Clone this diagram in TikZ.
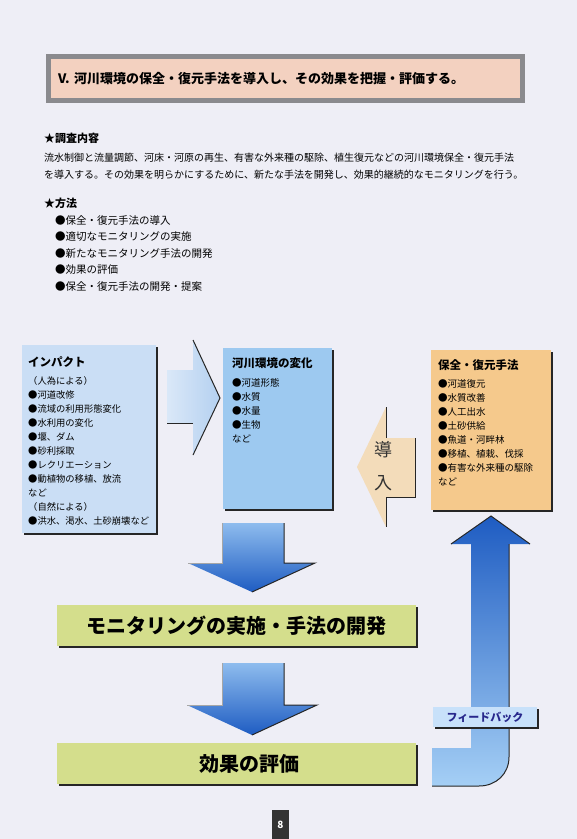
\documentclass[tikz,border=0pt]{standalone}
\usepackage{fontspec}
\setmainfont{Noto Sans CJK JP}
\usepackage{xcolor}
\usepackage{tikz}
\usetikzlibrary{positioning,shadows}

\definecolor{pagebg}{RGB}{238,238,246}
\definecolor{titlefill}{RGB}{243,209,192}
\definecolor{titleframe}{RGB}{138,138,142}
\definecolor{impactblue}{RGB}{202,222,245}
\definecolor{riverblue}{RGB}{157,201,240}
\definecolor{methodorange}{RGB}{245,201,140}
\definecolor{barleaf}{RGB}{212,222,140}
\definecolor{arrowlight}{RGB}{142,188,238}
\definecolor{arrowdark}{RGB}{30,92,194}
\definecolor{feedlight}{RGB}{165,207,245}
\definecolor{chevlight}{RGB}{218,232,248}
\definecolor{chevdark}{RGB}{180,208,240}
\definecolor{introfill}{RGB}{243,220,186}
\definecolor{feedfill}{RGB}{200,225,250}
\definecolor{feedtext}{RGB}{40,40,140}

\begin{document}
\begin{tikzpicture}[x=1pt, y=-1pt,
    titlebox/.style={draw=titleframe, line width=5pt, fill=titlefill, minimum width=474pt, minimum height=44pt, text width=455pt, align=left, font=\fontsize{13}{16}\selectfont\bfseries},
    headline/.style={anchor=base west, inner sep=0pt, font=\fontsize{11}{14}\selectfont\bfseries},
    plaintext/.style={anchor=north west, inner sep=0pt, align=left},
    listbox/.style={anchor=north west, fill=#1, inner ysep=9.5pt, drop shadow={shadow xshift=2pt, shadow yshift=-2pt, fill=black!85, opacity=1}},
    greenbar/.style={fill=barleaf, minimum width=359pt, minimum height=41pt, inner sep=0pt, drop shadow={shadow xshift=2pt, shadow yshift=-2pt, fill=black!85, opacity=1}, font=\fontsize{20}{24}\selectfont\bfseries},
    feedlabel/.style={fill=feedfill, minimum width=104pt, minimum height=20pt, inner sep=0pt, text=feedtext, drop shadow={shadow xshift=1.5pt, shadow yshift=-1.5pt, fill=black!85, opacity=1}, font=\fontsize{11}{13}\selectfont\bfseries},
    edgeline/.style={draw=black!85, line width=1pt},
    softline/.style={draw=black!35, line width=0.6pt}]
    \fill[pagebg] (0,0) rectangle (577,839);
    \useasboundingbox (0,0) rectangle (577,839);

    \node[titlebox] (title) at (285.5,78.5) {V. 河川環境の保全・復元手法を導入し、その効果を把握・評価する。};

    \node[headline] (surveyhead) at (44,142) {★調査内容};
    \node[plaintext, font=\fontsize{10}{17}\selectfont] (surveytext) at (44,153.2) {流水制御と流量調節、河床・河原の再生、有害な外来種の駆除、植生復元などの河川環境保全・復元手法\\を導入する。その効果を明らかにするために、新たな手法を開発し、効果的継続的なモニタリングを行う。};
    \node[headline] (methodhead) at (44,207) {★方法};
    \node[plaintext, font=\fontsize{10.5}{16.5}\selectfont] (methodlist) at (55,215) {●保全・復元手法の導入\\●適切なモニタリングの実施\\●新たなモニタリング手法の開発\\●効果の評価\\●保全・復元手法の開発・提案};

    \node[listbox=impactblue, inner xsep=6pt, inner ysep=11.5pt] (impact) at (22,345) {\parbox[t][165pt][t]{122pt}{\raggedright\fontsize{9.3}{14}\selectfont
        {\fontsize{11.5}{14}\selectfont\bfseries インパクト}\\[4pt]
        （人為による）\\●河道改修\\●流域の利用形態変化\\●水利用の変化\\●堰、ダム\\●砂利採取\\●レクリエーション\\●動植物の移植、放流\\など\\（自然による）\\●洪水、渇水、土砂崩壊など}};
    \node[listbox=riverblue, inner xsep=9pt] (river) at (223,348) {\parbox[t][142pt][t]{91pt}{\raggedright\fontsize{9.5}{14}\selectfont
        {\fontsize{11.5}{14}\selectfont\bfseries 河川環境の変化}\\[5pt]
        ●河道形態\\●水質\\●水量\\●生物\\など}};
    \node[listbox=methodorange, inner xsep=7pt] (method) at (431,350) {\parbox[t][141pt][t]{106pt}{\raggedright\fontsize{9.5}{14}\selectfont
        {\fontsize{11.5}{14}\selectfont\bfseries 保全・復元手法}\\[4pt]
        ●河道復元\\●水質改善\\●人工出水\\●土砂供給\\●魚道・河畔林\\●移植、植栽、伐採\\●有害な外来種の駆除\\など}};

    \shade[left color=chevlight, right color=chevdark] (167,370) -- (193,370) -- (193,340) -- (220,398) -- (193,455) -- (193,423) -- (167,423) -- cycle;
    \draw[edgeline] (193,340) -- (220,398) -- (193,455);
    \draw[edgeline] (167,423) -- (193,423);

    \fill[introfill] (357,467) -- (386,407) -- (386,438) -- (415,438) -- (415,497) -- (386,497) -- (386,527) -- cycle;
    \draw[edgeline] (386,407) -- (386,438);
    \draw[edgeline] (415,438) -- (415,497) -- (386,497) -- (386,527);
    \node[font=\fontsize{18}{33}\selectfont, align=center, text=black!80, inner sep=0pt] (intro) at (383,466.5) {導\\入};

    \shade[top color=arrowlight, bottom color=arrowdark] (222,523) -- (284,523) -- (284,563) -- (315,563) -- (252,592) -- (188,563) -- (222,563) -- cycle;
    \draw[softline] (188,563) -- (222,563) -- (222,523);
    \draw[edgeline] (284,523) -- (284,563) -- (315,563) -- (252,592);

    \node[greenbar] (monitor) at (236.5,625.5) {モニタリングの実施・手法の開発};

    \shade[top color=arrowlight, bottom color=arrowdark] (222,663) -- (284,663) -- (284,705) -- (317,705) -- (252,735) -- (187,705) -- (222,705) -- cycle;
    \draw[softline] (187,705) -- (222,705) -- (222,663);
    \draw[edgeline] (284,663) -- (284,705) -- (317,705) -- (252,735);

    \node[greenbar] (evaluate) at (236.5,763.5) {\hspace*{25pt}効果の評価};

    \shade[top color=arrowdark, bottom color=feedlight] (432,748) -- (471,748) -- (471,544) -- (451,544) -- (491,516) -- (530,544) -- (509,544) -- (509,757) .. controls (509,774) and (496,786) .. (479,786) -- (432,786) -- cycle;
    \draw[edgeline] (451,544) -- (491,516) -- (530,544);
    \draw[edgeline] (509,544) -- (509,757) .. controls (509,774) and (496,786) .. (479,786) -- (432,786);
    \node[feedlabel] (feedback) at (485,717) {フィードバック};

    \node[fill=black!80, text=white, minimum width=17pt, minimum height=30pt, inner sep=0pt, font=\fontsize{10}{12}\selectfont\bfseries] (pagenum) at (280.5,825) {8};
\end{tikzpicture}
\end{document}
